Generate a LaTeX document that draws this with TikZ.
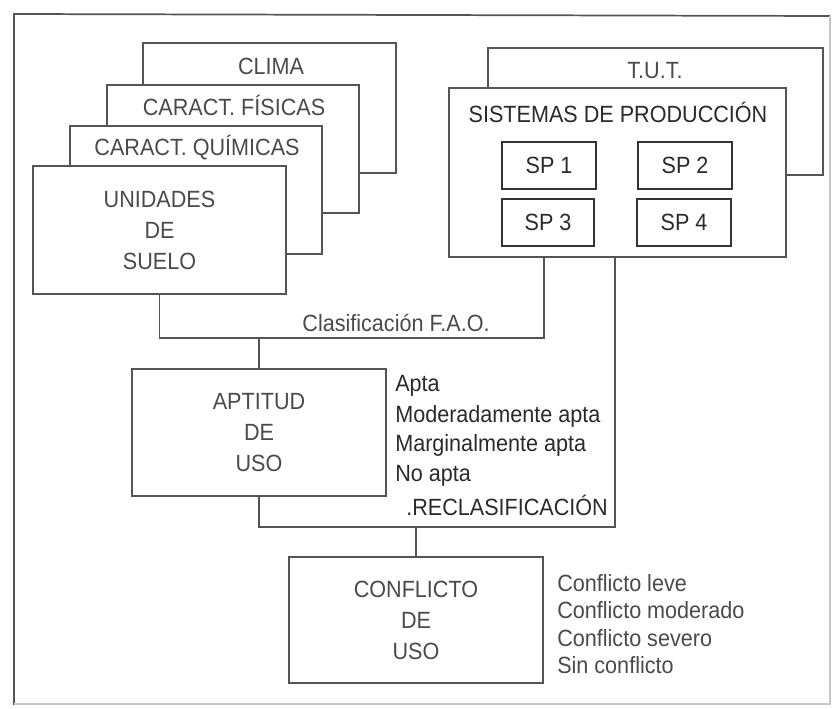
\documentclass[tikz,border=0pt]{standalone}
\usepackage{fontspec}
\setmainfont{Liberation Sans}[FakeStretch=0.92]
\definecolor{ln}{HTML}{555555}
\definecolor{lnd}{HTML}{333333}
\definecolor{tx}{HTML}{2A2A2A}
\definecolor{txl}{HTML}{4A4A4A}
\begin{document}
\begin{tikzpicture}[x=0.75pt,y=-0.75pt,
  bx/.style n args={4}{minimum width={(#3-#1)*0.75pt}, minimum height={(#4-#2)*0.75pt},
              at={(0.5*#1+0.5*#3,0.5*#2+0.5*#4)}},
  box/.style={draw=ln, line width=1.3pt, fill=white, inner sep=0pt, outer sep=0pt,
              align=center, text=txl, font=\fontsize{17.6}{23.25}\selectfont},
  spbox/.style={box, draw=lnd, text=tx},
  lbl/.style={inner sep=0pt, text=txl, font=\fontsize{17.6}{23.25}\selectfont},
  lbld/.style={lbl, text=tx},
  conn/.style={draw=ln, line width=1.3pt}]
\useasboundingbox (0,0) rectangle (835,709);
% frame
\draw[ln, line width=1.3pt] (14,705) -- (14,14) -- (830,16);
\draw[gray!45, line width=1pt] (830,16) -- (830,704) -- (14,704);
% left stack
\node[box, bx={143}{43}{396}{173}] (clima) {};
\node[lbl, anchor=base] (climat) at (271,74.5) {CLIMA};
\node[box, bx={107}{85}{359}{213}] (fis) {};
\node[lbl, anchor=base] (fist) at (234,115.5) {CARACT. FÍSICAS};
\node[box, bx={70}{126}{322}{254}] (qui) {};
\node[lbl, anchor=base] (quit) at (197,155.5) {CARACT. QUÍMICAS};
\node[box, bx={33}{166}{286}{294}] (unid) {UNIDADES\\DE\\SUELO};
% right stack
\node[box, bx={488}{48}{823}{175}] (tut) {};
\node[lbl, anchor=base] (tutt) at (655,78.5) {T.U.T.};
\node[box, bx={449}{88}{786}{257}] (sist) {};
\node[lbld, anchor=base] (sistt) at (618,122.5) {SISTEMAS DE PRODUCCIÓN};
\node[spbox, bx={502}{142}{596}{189}, line width=2.2pt] (sp1) {SP 1};
\node[spbox, bx={638}{142}{732}{189}, line width=2.2pt] (sp2) {SP 2};
\node[spbox, bx={502}{199}{594}{246}] (sp3) {SP 3};
\node[spbox, bx={637}{199}{731}{246}] (sp4) {SP 4};
% lower boxes
\node[box, bx={132}{369}{386}{496}] (apt) {APTITUD\\DE\\USO};
\node[box, bx={289}{557}{543}{683}] (conf) {CONFLICTO\\DE\\USO};
% junction coordinates
\coordinate (j1) at (259,338);
\coordinate (s1) at (544,257);
\coordinate (j2) at (416,527);
\coordinate (s2) at (615,257);
% connectors
\draw[conn] (unid.south) |- (j1) -| (s1);
\draw[conn] (j1) -- (apt.north);
\draw[conn] (apt.south) |- (j2) -| (s2);
\draw[conn] (j2) -- (conf.north);
% labels
\node[lbl, anchor=base] (fao) at (396,331.5) {Clasificación F.A.O.};
\node[lbld, anchor=base west] (a1) at (395,391.5) {Apta};
\node[lbld, anchor=base west] (a2) at (395,422) {Moderadamente apta};
\node[lbld, anchor=base west] (a3) at (395,451.5) {Marginalmente apta};
\node[lbld, anchor=base west] (a4) at (395,481.5) {No apta};
\node[lbld, anchor=base west] (recl) at (406,515) {.RECLASIFICACIÓN};
\node[lbl, anchor=base west] (c1) at (557,591) {Conflicto leve};
\node[lbl, anchor=base west] (c2) at (557,618.5) {Conflicto moderado};
\node[lbl, anchor=base west] (c3) at (557,646) {Conflicto severo};
\node[lbl, anchor=base west] (c4) at (557,673.5) {Sin conflicto};
\end{tikzpicture}
\end{document}
